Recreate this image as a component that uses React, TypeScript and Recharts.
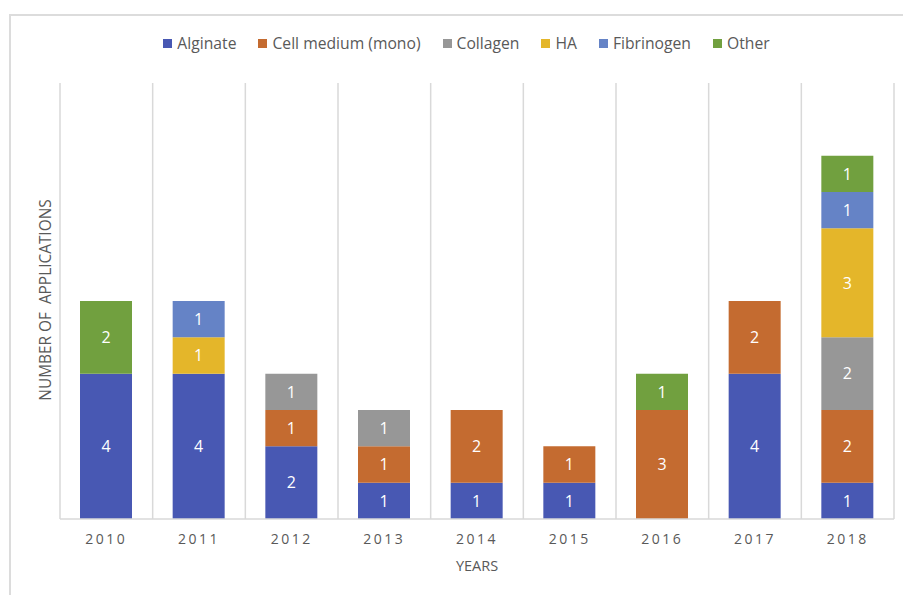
import React from 'react';
import { BarChart, Bar, XAxis, YAxis, CartesianGrid, LabelList, Label } from 'recharts';

const years = ['2010', '2011', '2012', '2013', '2014', '2015', '2016', '2017', '2018'];
const alginate = [4, 4, 2, 1, 1, 1, null, 4, 1];
const cellMedium = [null, null, 1, 1, 2, 1, 3, 2, 2];
const collagen = [null, null, 1, 1, null, null, null, null, 2];
const ha = [null, 1, null, null, null, null, null, null, 3];
const fibrinogen = [null, 1, null, null, null, null, null, null, 1];
const other = [2, null, null, null, null, null, 1, null, 1];

const seriesDefs = [
  { key: 'Alginate', values: alginate, color: '#4858B3' },
  { key: 'Cell medium (mono)', values: cellMedium, color: '#C46B30' },
  { key: 'Collagen', values: collagen, color: '#979797' },
  { key: 'HA', values: ha, color: '#E4B62A' },
  { key: 'Fibrinogen', values: fibrinogen, color: '#6583C6' },
  { key: 'Other', values: other, color: '#71A03F' },
];

const data = years.map((y, i) => {
  const row: any = { year: y };
  seriesDefs.forEach((s) => {
    row[s.key] = s.values[i];
  });
  return row;
});

const FONT = '"Open Sans", Lato, sans-serif';

const gridGen = ({ offset }: any) => {
  const n = years.length;
  const arr: number[] = [];
  for (let i = 0; i <= n; i++) arr.push(offset.left + (i * offset.width) / n);
  return arr;
};

const fmt = (v: any) => (v === null || v === undefined || v === 0 ? '' : v);

export default function App() {
  return (
    <div style={{ position: 'absolute', left: 0, top: 0, width: 903, height: 595, overflow: 'hidden', background: '#fff' }}>
      <div
        style={{
          position: 'absolute',
          left: 9,
          top: 14,
          width: 1200,
          height: 1200,
          border: '2px solid #dcdcdc',
        }}
      />
      <div
        style={{
          position: 'absolute',
          left: 0,
          top: 32,
          width: 933,
          display: 'flex',
          justifyContent: 'center',
          alignItems: 'center',
          gap: 22,
          fontFamily: FONT,
          fontSize: 15.7,
          lineHeight: '22px',
          color: '#595959',
        }}
      >
        {seriesDefs.map((s) => (
          <div key={s.key} style={{ display: 'flex', alignItems: 'center' }}>
            <span style={{ display: 'inline-block', width: 9, height: 9, background: s.color, marginRight: 5 }} />
            <span>{s.key}</span>
          </div>
        ))}
      </div>
      <div style={{ position: 'absolute', left: 0, top: 0 }}>
        <BarChart
          width={903}
          height={595}
          data={data}
          margin={{ top: 83, right: 9, bottom: 46, left: 60 }}
        >
          <CartesianGrid
            horizontal={false}
            vertical={true}
            stroke="#d9d9d9"
            strokeWidth={1.5}
            verticalCoordinatesGenerator={gridGen}
          />
          <XAxis
            dataKey="year"
            axisLine={{ stroke: '#d9d9d9', strokeWidth: 1.5 }}
            tickLine={false}
            tickMargin={9}
            tick={{ fill: '#595959', fontSize: 14, fontFamily: FONT, letterSpacing: 2.5 }}
          >
            <Label value="YEARS" position="bottom" offset={12} style={{ fill: '#595959', fontSize: 14.5, fontFamily: FONT }} />
          </XAxis>
          <YAxis hide domain={[0, 12]} />
          {seriesDefs.map((s) => (
            <Bar key={s.key} dataKey={s.key} stackId="a" fill={s.color} barSize={52} isAnimationActive={false}>
              <LabelList
                dataKey={s.key}
                position="center"
                formatter={fmt}
                style={{ fill: '#ffffff', fontSize: 16, fontFamily: FONT }}
              />
            </Bar>
          ))}
        </BarChart>
      </div>
      <div
        style={{
          position: 'absolute',
          left: 45,
          top: 300,
          transform: 'translate(-50%, -50%) rotate(-90deg)',
          whiteSpace: 'pre',
          fontFamily: FONT,
          fontSize: 15.4,
          color: '#595959',
        }}
      >
        {'NUMBER OF  APPLICATIONS'}
      </div>
    </div>
  );
}
